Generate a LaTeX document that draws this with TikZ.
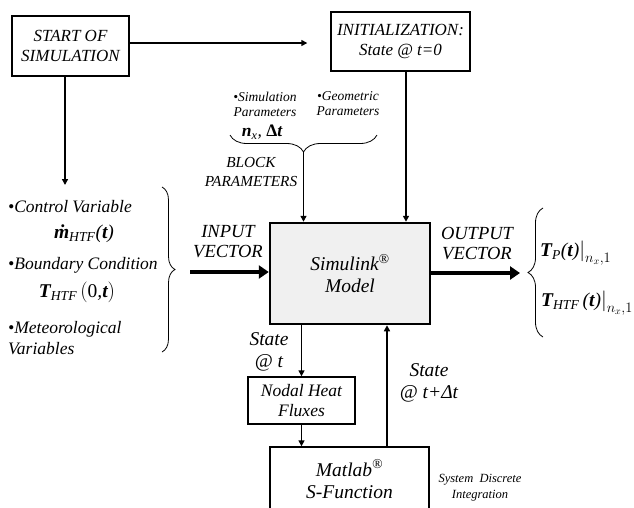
\documentclass[tikz,border=0pt]{standalone}
\usepackage{fontspec}
\setmainfont{Liberation Serif}
\usetikzlibrary{arrows.meta,decorations.pathreplacing}
\newcommand{\bi}[1]{\textbf{\textit{#1}}}
\begin{document}
\begin{tikzpicture}[x=1pt,y=-1pt,
  every node/.style={inner sep=0pt, font=\itshape\fontsize{17}{20}\selectfont, align=center},
  boxnode/.style={draw, line width=1.4pt},
  arr/.style={line width=1.4pt, -{Triangle[length=6pt,width=6pt]}},
  bigarr/.style={line width=4.5pt, -{Triangle[length=10pt,width=13pt]}},
  brc/.style={decorate, decoration={brace, amplitude=#1}, line width=0.8pt},
  small/.style={font=\itshape\fontsize{13.5}{15}\selectfont},
  tiny/.style={font=\itshape\fontsize{12.5}{16}\selectfont},
  lab/.style={font=\itshape\fontsize{18.5}{20}\selectfont},
  big/.style={font=\itshape\fontsize{19.5}{22}\selectfont},
  frm/.style={font=\itshape\fontsize{19.5}{22}\selectfont},
]
\useasboundingbox (0,0) rectangle (634,507);
\clip (0,0) rectangle (634,507);
% boxes
\node[boxnode, minimum width=117pt, minimum height=60pt] (start) at (70.5,46) {START OF\\SIMULATION};
\node[boxnode, minimum width=139pt, minimum height=59pt] (init) at (400.5,41.5) {INITIALIZATION:\\State @ \textit{t}=0};
\node[boxnode, big, line width=2.5pt, fill=gray!12, minimum width=160pt, minimum height=101pt] (sim) at (350,273.5) {Simulink\textsuperscript{®}\\Model};
\node[boxnode, font=\itshape\fontsize{17.5}{20}\selectfont, minimum width=107pt, minimum height=47pt] (nodal) at (301.5,400.5) {Nodal Heat\\Fluxes};
\node[boxnode, big, minimum width=159pt, minimum height=64pt] (matlab) at (349.5,479) {Matlab\textsuperscript{®}\\S-Function};
% block parameters
\node[small] (simpar) at (265,104) {\textbullet Simulation\\Parameters};
\node[small] (geopar) at (348,104) {\textbullet Geometric\\Parameters};
\node[font=\itshape\fontsize{17.5}{20}\selectfont] (nxdt) at (262,132) {\bi{n}\textsubscript{\textit{x}}, \textup{\textbf{Δ}}\bi{t}};
\node[font=\itshape\fontsize{15.3}{19}\selectfont] (blockpar) at (251,172) {BLOCK\\PARAMETERS};
\draw[brc=17pt] (377,135) -- (230,135);
\coordinate (bracetip) at (303.5,152);
% left list
\node[anchor=west, font=\itshape\fontsize{17.5}{20}\selectfont] (cv) at (8,207) {\textbullet Control Variable};
\node[frm] (mdot) at (84,234) {\bi{\.m}\textsubscript{\textit{HTF}}(\bi{t})};
\node[anchor=west, font=\itshape\fontsize{17.5}{20}\selectfont] (bc) at (8,265) {\textbullet Boundary Condition};
\node[frm] (tbc) at (77,292) {\bi{T}\textsubscript{\textit{HTF}}\,$\bigl($\textup{0},\bi{t}$\bigr)$};
\node[anchor=west, align=left, font=\itshape\fontsize{17.5}{21}\selectfont] (met) at (8,338) {\textbullet Meteorological\\Variables};
\draw[brc=13pt] (162,187) -- (162,352);
% input / output
\coordinate (inL) at (190,272);
\draw[bigarr] (inL) -- (inL -| sim.west);
\node[lab] (inlab) at (228,242) {INPUT\\VECTOR};
\node[lab] (outlab) at (477,244) {OUTPUT\\VECTOR};
\coordinate (outR) at (520,273);
\draw[bigarr] (sim.east |- outR) -- (outR);
\draw[brc=15pt] (543,337) -- (543,208);
\node[anchor=west, frm] (tp) at (540,253) {\bi{T}\textsubscript{\textit{P}}(\bi{t})$\Big|_{n_x,1}$};
\node[anchor=west, frm] (thtf) at (541,303) {\bi{T}\textsubscript{\textit{HTF}}\,(\bi{t})$\Big|_{n_x,1}$};
% state labels
\node[big] (st1) at (269,352) {State\\@ \textit{t}};
\node[big] (st2) at (429,383) {State\\@ \textit{t}+Δ\textit{t}};
\node[tiny] (sdi) at (480,488) {System\ \ Discrete\\Integration};
% connectors
\draw[arr] ([yshift=3pt]start.east) -- ([yshift=3pt,xshift=-23pt]start.east -| init.west);
\coordinate (lefttop) at (65,185);
\draw[arr] (start.south -| lefttop) -- (lefttop);
\draw[arr] ([xshift=5.5pt]init.south) -- ([xshift=5.5pt]init.south |- sim.north);
\draw[arr] (bracetip) -- (bracetip |- sim.north);
\draw[arr] (sim.south -| nodal.north) -- (nodal.north);
\draw[arr] (nodal.south) -- (nodal.south |- matlab.north);
\draw[arr] ([xshift=37.5pt]matlab.north) -- ([xshift=37.5pt]matlab.north |- sim.south);
\end{tikzpicture}
\end{document}
